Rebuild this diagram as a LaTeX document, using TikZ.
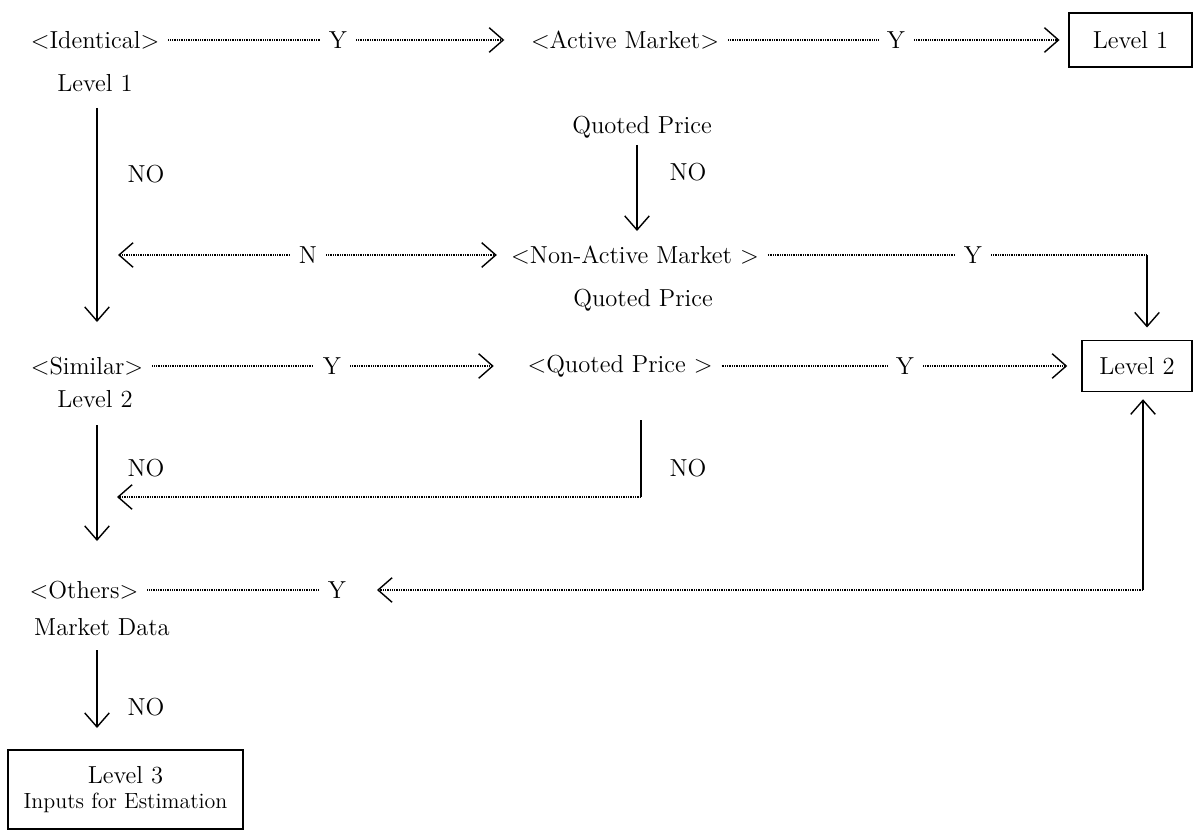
\documentclass[tikz,border=0pt]{standalone}
\usetikzlibrary{arrows.meta}
\begin{document}
\begin{tikzpicture}[x=0.02cm,y=-0.02cm,
  every node/.style={font=\fontsize{14}{16}\selectfont, inner sep=5pt},
  box/.style={draw, line width=0.8pt, inner sep=2pt},
  solidarr/.style={line width=0.7pt, -{Straight Barb[length=8pt,width=14pt,line width=0.8pt]}},
  solidline/.style={line width=0.7pt},
  dotline/.style={line width=0.65pt, dash pattern=on 0.45pt off 0.55pt},
  dotarr/.style={dotline, -{Straight Barb[length=8pt,width=14pt,line width=0.8pt]}}]
\useasboundingbox (0,0) rectangle (1195,831);

% Row 1
\node (ident) at (95,40) {<Identical>};
\node (y1) at (338,40) {Y};
\node (active) at (625,40) {<Active Market>};
\node (y2) at (896,40) {Y};
\node[box, minimum width=2.46cm, minimum height=1.08cm] (L1) at (1130.5,40) {Level 1};
\draw[dotline] (ident) -- (y1);
\draw[dotarr, shorten >=10pt] (y1) -- (active);
\draw[dotline] (active) -- (y2);
\draw[dotarr, shorten >=5pt] (y2) -- (L1);

\node (lv1) at (95,83) {Level 1};
\node (qp1) at (642,127) {Quoted Price};

% left vertical 1
\coordinate (a1s) at (97,108);
\coordinate (a1e) at (97,322);
\draw[solidarr] (a1s) -- (a1e);
\node (no1) at (146,174) {NO};

% middle vertical
\draw[solidarr] (637,145) coordinate (m0s) -- (637,231) coordinate (m0e);
\node (no2) at (688,172) {NO};

% Row 3
\node (nonact) at (635,255) {<Non-Active Market >};
\node (n) at (308,255) {N};
\coordinate (nl) at (118,255);
\draw[dotarr] (n) -- (nl);
\draw[dotarr, shorten >=3pt] (n) -- (nonact);
\node (y3) at (973,255) {Y};
\draw[dotline] (nonact) -- (y3);
\coordinate (c3) at (1147,255);
\draw[dotline] (y3) -- (c3);

\node (qp2) at (643,300) {Quoted Price};

% Row 4
\node (sim) at (87,366) {<Similar>};
\node (y4) at (332,366) {Y};
\node (qpr) at (620,366) {<Quoted Price >};
\node (y5) at (905,366) {Y};
\node[box, minimum width=2.2cm, minimum height=1.02cm] (L2) at (1137,366) {Level 2};
\draw[dotline] (sim) -- (y4);
\draw[dotarr, shorten >=14pt] (y4) -- (qpr);
\draw[dotline] (qpr) -- (y5);
\draw[dotarr, shorten >=8pt] (y5) -- (L2);
\draw[solidarr, shorten >=7pt] (c3) -- (c3 |- L2.north);

\node (lv2) at (95,399) {Level 2};

% Row 5
\coordinate (a2s) at (97,425);
\coordinate (a2e) at (97,541);
\draw[solidarr] (a2s) -- (a2e);
\node (no3) at (146,468) {NO};
\coordinate (m1) at (641,420);
\coordinate (m2) at (641,497);
\coordinate (m3) at (117,497);
\draw[solidline] (m1) -- (m2);
\draw[dotarr] (m2) -- (m3);
\node (no4) at (688,468) {NO};

% Row 6
\node (oth) at (84,590) {<Others>};
\node (y6) at (337,590) {Y};
\coordinate (t6) at (377,590);
\coordinate (r1) at (1143,590);
\draw[dotline] (oth) -- (y6);
\draw[dotarr] (r1) -- (t6);
\draw[solidarr, shorten >=4pt] (r1) -- (r1 |- L2.south);

\node (md) at (102,627) {Market Data};

% Row 7
\coordinate (a3s) at (97,650);
\coordinate (a3e) at (97,728);
\draw[solidarr] (a3s) -- (a3e);
\node (no5) at (146,707) {NO};

\node[box, minimum width=4.7cm, minimum height=1.58cm, align=center, inner sep=2pt] (L3) at (125.5,789.5)
  {Level 3\\[-2pt]{\fontsize{12.5}{15}\selectfont Inputs for Estimation}};
\end{tikzpicture}
\end{document}
